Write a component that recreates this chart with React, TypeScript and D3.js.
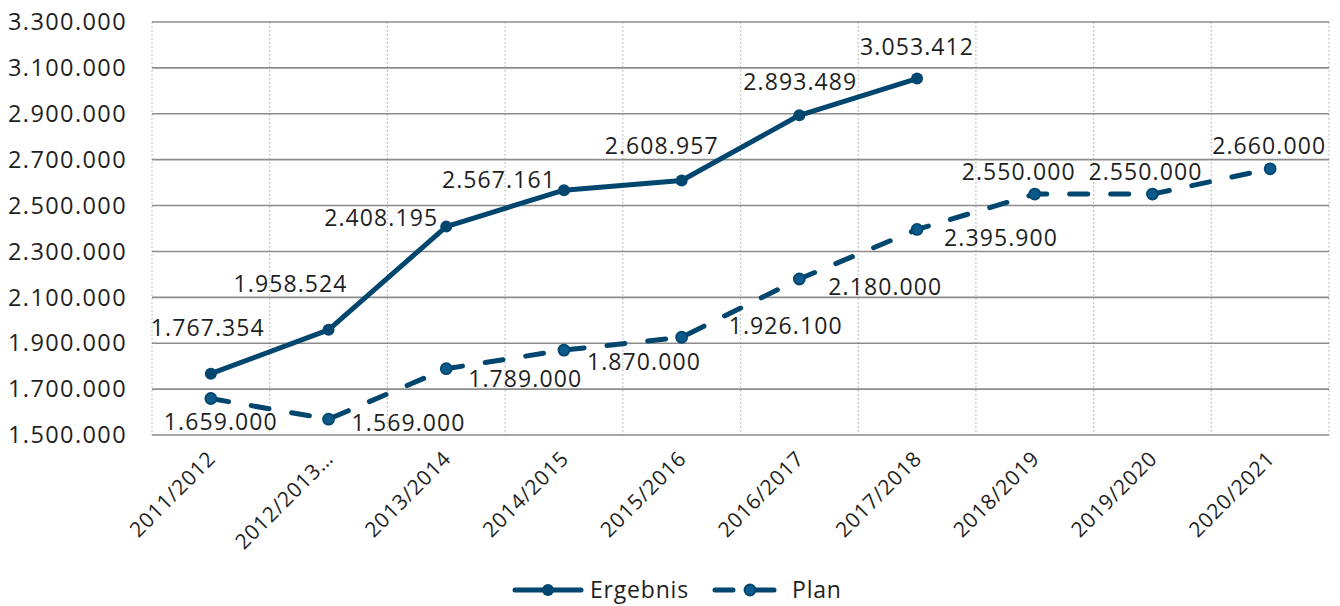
import React from "react";
import * as d3 from "d3";

const categories = ["2011/2012", "2012/2013…", "2013/2014", "2014/2015", "2015/2016", "2016/2017", "2017/2018", "2018/2019", "2019/2020", "2020/2021"];
const ergebnis = [1767354, 1958524, 2408195, 2567161, 2608957, 2893489, 3053412];
const plan = [1659000, 1569000, 1789000, 1870000, 1926100, 2180000, 2395900, 2550000, 2550000, 2660000];
const yTicks = [1500000, 1700000, 1900000, 2100000, 2300000, 2500000, 2700000, 2900000, 3100000, 3300000];

// label placement offsets (layout only)
const ergebnisLabelOffsets: [number, number][] = [[-3, -46], [-38, -46], [-65, -9], [-65, -10], [-20, -35], [1, -33], [0, -32]];
const planLabelOffsets: [number, number][] = [[10, 23], [80, 4], [79, 10], [80, 12], [104, -11], [86, 8], [84, 9], [-16, -22], [-7, -22], [-1, -23]];

const W = 1340, H = 606;
const FONT = "'Open Sans', 'Noto Sans', sans-serif";
const LINE = "#00466e";
const PLAN_FILL = "#0b5a8c";
const TEXT = "#1f1f1f";

const locale = d3.formatLocale({ decimal: ",", thousands: ".", grouping: [3], currency: ["", "€"] });
const fmt = locale.format(",d");

export default function App() {
  const x = d3.scaleBand<string>().domain(categories).range([152, 1329]);
  const bw = x.bandwidth();
  const cx = (i: number) => (x(categories[i]) as number) + bw / 2;
  const y = d3.scaleLinear().domain([1500000, 3300000]).range([435, 22]);

  const line = d3.line<number>().x((_, i) => cx(i)).y((d) => y(d));

  const boundaries = categories.map((c) => x(c) as number).concat([1329]);

  return (
    <svg width={W} height={H} style={{ position: "absolute", left: 0, top: 0, background: "#fff" }} fontFamily={FONT}>
      {boundaries.map((bx, i) => (
        <line key={"v" + i} x1={bx} x2={bx} y1={22} y2={435} stroke="#b4b4b4" strokeWidth={1.2} strokeDasharray="1.5,2.5" />
      ))}
      {yTicks.map((t) => (
        <line key={"h" + t} x1={152} x2={1329} y1={y(t)} y2={y(t)} stroke="#8c8c8c" strokeWidth={1.6} />
      ))}
      {yTicks.map((t) => (
        <text key={"yl" + t} x={127} y={y(t)} dy="0.35em" textAnchor="end" fontSize={23.5} fill={TEXT} letterSpacing={1.4}>
          {fmt(t)}
        </text>
      ))}
      {categories.map((c, i) => (
        <text key={"xl" + c} transform={`translate(${cx(i) + 6},${460}) rotate(-45)`} textAnchor="end" fontSize={21} fill={TEXT} letterSpacing={0.8}>
          {c}
        </text>
      ))}
      <path d={line(plan) || ""} fill="none" stroke={LINE} strokeWidth={5} strokeDasharray="18,23" strokeLinecap="round" />
      <path d={line(ergebnis) || ""} fill="none" stroke={LINE} strokeWidth={5} strokeLinejoin="round" />
      {plan.map((v, i) => (
        <circle key={"pm" + i} cx={cx(i)} cy={y(v)} r={5.5} fill={PLAN_FILL} stroke={LINE} strokeWidth={1.8} />
      ))}
      {ergebnis.map((v, i) => (
        <circle key={"em" + i} cx={cx(i)} cy={y(v)} r={6} fill={LINE} />
      ))}
      {ergebnis.map((v, i) => (
        <text key={"el" + i} x={cx(i) + ergebnisLabelOffsets[i][0]} y={y(v) + ergebnisLabelOffsets[i][1]} dy="0.35em" textAnchor="middle" fontSize={23} fill={TEXT} letterSpacing={1.1}>
          {fmt(v)}
        </text>
      ))}
      {plan.map((v, i) => (
        <text key={"pl" + i} x={cx(i) + planLabelOffsets[i][0]} y={y(v) + planLabelOffsets[i][1]} dy="0.35em" textAnchor="middle" fontSize={23} fill={TEXT} letterSpacing={1.1}>
          {fmt(v)}
        </text>
      ))}
      <g>
        <line x1={515} x2={581} y1={590} y2={590} stroke={LINE} strokeWidth={5} strokeLinecap="round" />
        <circle cx={548} cy={590} r={6} fill={LINE} />
        <text x={590} y={590} dy="0.35em" fontSize={23} fill={TEXT} letterSpacing={0.8}>Ergebnis</text>
        <line x1={715} x2={776} y1={590} y2={590} stroke={LINE} strokeWidth={5} strokeLinecap="round" strokeDasharray="18,23" />
        <circle cx={750} cy={590} r={5.5} fill={PLAN_FILL} stroke={LINE} strokeWidth={1.8} />
        <text x={792} y={590} dy="0.35em" fontSize={23} fill={TEXT} letterSpacing={0.8}>Plan</text>
      </g>
    </svg>
  );
}
